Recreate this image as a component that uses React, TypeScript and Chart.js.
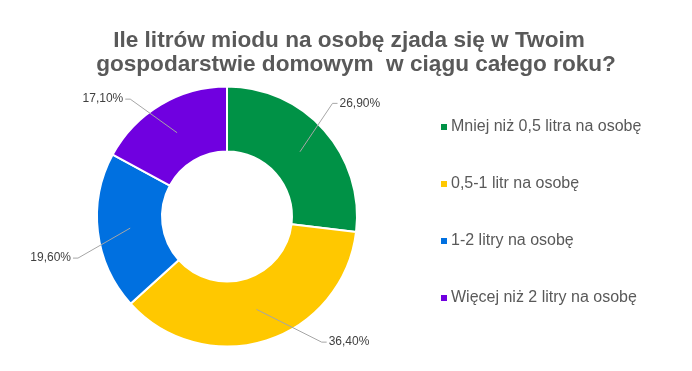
import React, { useEffect, useRef } from "react";
import { Chart, registerables } from "chart.js";

Chart.register(...registerables);

const categories = [
  "Mniej niż 0,5 litra na osobę",
  "0,5-1 litr na osobę",
  "1-2 litry na osobę",
  "Więcej niż 2 litry na osobę",
];
const values = [26.9, 36.4, 19.6, 17.1];
const colors = ["#009246", "#FFC800", "#0070E0", "#7000E0"];
const titleLines = [
  "Ile litrów miodu na osobę zjada się w Twoim",
  "gospodarstwie domowym  w ciągu całego roku?",
];

// label elbow placement: angle (deg, clockwise from top) and radius factor of outer radius
const labelPlacement = [
  { angle: 43, r: 1.19 },
  { angle: 143, r: 1.21 },
  { angle: 254.4, r: 1.19 },
  { angle: 320.5, r: 1.17 },
];

const fmt = (v: number) => v.toFixed(2).replace(".", ",") + "%";

const decorPlugin = {
  id: "decor",
  afterDraw(chart: any) {
    const ctx = chart.ctx as CanvasRenderingContext2D;
    ctx.save();
    // title
    ctx.fillStyle = "#595959";
    ctx.font = "bold 22.6px 'Liberation Sans', Arial, sans-serif";
    ctx.textAlign = "center";
    ctx.textBaseline = "alphabetic";
    ctx.fillText(titleLines[0], 349, 47);
    ctx.fillText(titleLines[1], 356, 71);

    // legend
    const legendY = [127, 184, 241, 298];
    ctx.font = "16px 'Liberation Sans', Arial, sans-serif";
    ctx.textAlign = "left";
    ctx.textBaseline = "middle";
    categories.forEach((c, i) => {
      ctx.fillStyle = colors[i];
      ctx.fillRect(441, legendY[i] - 3, 6, 6);
      ctx.fillStyle = "#595959";
      ctx.fillText(c, 451, legendY[i]);
    });

    // data labels with leader lines
    const meta = chart.getDatasetMeta(0);
    ctx.font = "12px 'Liberation Sans', Arial, sans-serif";
    meta.data.forEach((arc: any, i: number) => {
      const { x, y, startAngle, endAngle, innerRadius, outerRadius } = arc.getProps(
        ["x", "y", "startAngle", "endAngle", "innerRadius", "outerRadius"],
        true
      );
      const mid = (startAngle + endAngle) / 2;
      const rm = (innerRadius + outerRadius) / 2;
      const sx = x + Math.cos(mid) * rm;
      const sy = y + Math.sin(mid) * rm;
      const p = labelPlacement[i];
      const a = ((p.angle - 90) * Math.PI) / 180;
      const ex = x + Math.cos(a) * outerRadius * p.r;
      const ey = y + Math.sin(a) * outerRadius * p.r;
      const right = ex > x;
      const hx = ex + (right ? 5 : -5);
      ctx.strokeStyle = "#A6A6A6";
      ctx.lineWidth = 1;
      ctx.beginPath();
      ctx.moveTo(sx, sy);
      ctx.lineTo(ex, ey);
      ctx.lineTo(hx, ey);
      ctx.stroke();
      ctx.fillStyle = "#404040";
      ctx.textAlign = right ? "left" : "right";
      ctx.textBaseline = "middle";
      ctx.fillText(fmt(values[i]), hx + (right ? 2 : -2), ey);
    });
    ctx.restore();
  },
};

export default function App() {
  const ref = useRef<HTMLCanvasElement | null>(null);
  useEffect(() => {
    if (!ref.current) return;
    const chart = new Chart(ref.current, {
      type: "doughnut",
      data: {
        labels: categories,
        datasets: [
          {
            data: values,
            backgroundColor: colors,
            borderColor: "#FFFFFF",
            borderWidth: 2,
          },
        ],
      },
      options: {
        animation: false,
        responsive: true,
        maintainAspectRatio: false,
        cutout: "50%",
        layout: { padding: { left: 96, right: 334, top: 85, bottom: 23 } },
        plugins: {
          legend: { display: false },
          title: { display: false },
          tooltip: { enabled: false },
        },
      },
      plugins: [decorPlugin],
    });
    return () => chart.destroy();
  }, []);
  return (
    <div style={{ position: "fixed", left: 0, top: 0, width: 692, height: 371, background: "#fff" }}>
      <canvas ref={ref} />
    </div>
  );
}
